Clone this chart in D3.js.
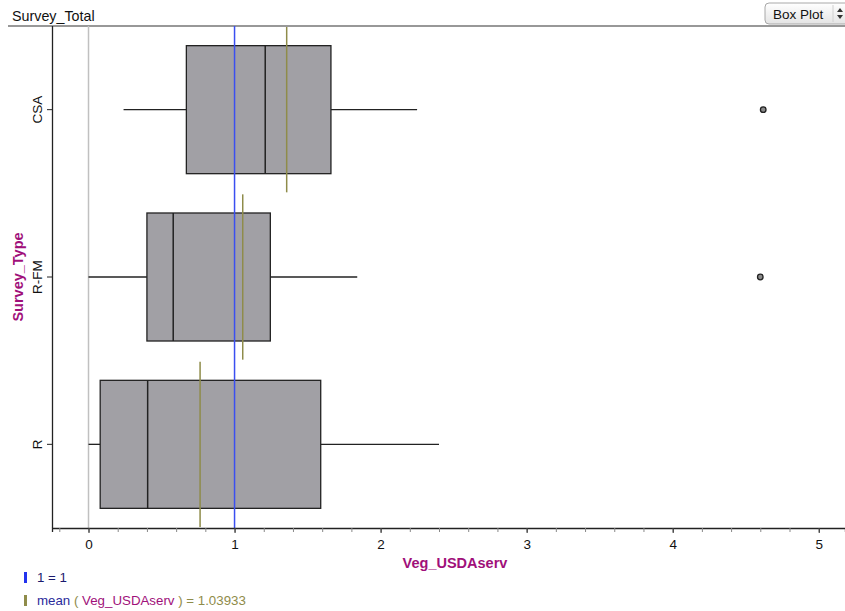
<!DOCTYPE html>
<html>
<head>
<meta charset="utf-8">
<script src="https://cdn.jsdelivr.net/npm/d3@7"></script>
<style>
  html, body { margin: 0; padding: 0; background: #fff; }
  svg { display: block; font-family: "Liberation Sans", Arial, sans-serif; }
</style>
</head>
<body>
<svg id="chart" width="845" height="611"></svg>
<script>
// Survey types, top to bottom
const categories = ["CSA", "R-FM", "R"];
// Five-number summaries per survey type
const whiskerLow  = [0.24, 0.00, 0.00];
const q1          = [0.67, 0.40, 0.08];
const median      = [1.21, 0.58, 0.405];
const q3          = [1.66, 1.245, 1.59];
const whiskerHigh = [2.25, 1.84, 2.40];
// Outliers as [category, value]
const outliers = [["CSA", 4.62], ["R-FM", 4.60]];
// Group means of Veg_USDAserv
const groupMeans = [1.357, 1.056, 0.764];
const overallMean = 1.03933;
const referenceValue = 1;
const xTicks = [0, 1, 2, 3, 4, 5];
const xMinorTicks = d3.range(-0.2, 5.21, 0.2).map(v => +v.toFixed(1));

const svg = d3.select("#chart");
const plot = { left: 52, right: 845, top: 26, bottom: 528 };

const x = d3.scaleLinear().domain([-0.25, 5.18]).range([plot.left, plot.right]);
const y = d3.scaleBand().domain(categories).range([plot.top, plot.bottom]);
const boxH = y.bandwidth() * 0.765;

// Header title and divider
svg.append("text").attr("x", 12).attr("y", 21).attr("font-size", 14.3).attr("fill", "#111")
  .text("Survey_Total");
svg.append("line").attr("x1", 8).attr("x2", 845).attr("y1", plot.top).attr("y2", plot.top)
  .attr("stroke", "#333").attr("stroke-width", 1.2);

// "Box Plot" selector
const btn = svg.append("g").attr("transform", "translate(765,3)");
const grad = svg.append("defs").append("linearGradient").attr("id", "btnGrad")
  .attr("x1", 0).attr("y1", 0).attr("x2", 0).attr("y2", 1);
grad.append("stop").attr("offset", "0%").attr("stop-color", "#ffffff");
grad.append("stop").attr("offset", "100%").attr("stop-color", "#e4e4e4");
btn.append("rect").attr("width", 84).attr("height", 21).attr("rx", 4)
  .attr("fill", "url(#btnGrad)").attr("stroke", "#a8a8a8");
btn.append("line").attr("x1", 68).attr("x2", 68).attr("y1", 2).attr("y2", 19).attr("stroke", "#d0d0d0");
btn.append("text").attr("x", 8).attr("y", 15.5).attr("font-size", 13.5).attr("fill", "#111")
  .text("Box Plot");
btn.append("path").attr("d", "M72,9 L75,5 L78,9 Z M72,12 L75,16 L78,12 Z").attr("fill", "#333");

// Zero line
svg.append("line").attr("x1", x(0)).attr("x2", x(0)).attr("y1", plot.top).attr("y2", plot.bottom)
  .attr("stroke", "#c0c0c0").attr("stroke-width", 1.5);

// Boxes
const groups = svg.append("g").selectAll("g").data(categories).join("g");
groups.each(function(c, i) {
  const g = d3.select(this);
  const cy = y(c) + y.bandwidth() / 2;
  g.append("line").attr("x1", x(whiskerLow[i])).attr("x2", x(q1[i]))
    .attr("y1", cy).attr("y2", cy).attr("stroke", "#222").attr("stroke-width", 1.3);
  g.append("line").attr("x1", x(q3[i])).attr("x2", x(whiskerHigh[i]))
    .attr("y1", cy).attr("y2", cy).attr("stroke", "#222").attr("stroke-width", 1.3);
  g.append("rect").attr("x", x(q1[i])).attr("y", cy - boxH / 2)
    .attr("width", x(q3[i]) - x(q1[i])).attr("height", boxH)
    .attr("fill", "#a1a0a5").attr("stroke", "#222").attr("stroke-width", 1.3);
  g.append("line").attr("x1", x(median[i])).attr("x2", x(median[i]))
    .attr("y1", cy - boxH / 2).attr("y2", cy + boxH / 2)
    .attr("stroke", "#222").attr("stroke-width", 1.5);
});

// Outliers
svg.append("g").selectAll("circle").data(outliers).join("circle")
  .attr("cx", d => x(d[1])).attr("cy", d => y(d[0]) + y.bandwidth() / 2)
  .attr("r", 2.8).attr("fill", "#8a8a8a").attr("stroke", "#222").attr("stroke-width", 1.3);

// Reference line at 1
svg.append("line").attr("x1", x(referenceValue)).attr("x2", x(referenceValue))
  .attr("y1", plot.top).attr("y2", plot.bottom).attr("stroke", "#3a4ff0").attr("stroke-width", 1.5);

// Group mean lines
svg.append("g").selectAll("line").data(categories).join("line")
  .attr("x1", (c, i) => x(groupMeans[i])).attr("x2", (c, i) => x(groupMeans[i]))
  .attr("y1", c => y(c) + 1).attr("y2", c => y(c) + y.bandwidth() - 1)
  .attr("stroke", "#8f8c4a").attr("stroke-width", 1.5);

// Axes
const xAxisMinor = d3.axisBottom(x).tickValues(xMinorTicks).tickSize(4).tickFormat("");
svg.append("g").attr("transform", `translate(0,${plot.bottom})`).call(xAxisMinor)
  .call(g => g.select(".domain").attr("stroke", "#222").attr("stroke-width", 1.3))
  .call(g => g.selectAll(".tick line").attr("stroke", "#888"));
const xAxis = d3.axisBottom(x).tickValues(xTicks).tickSize(5).tickFormat(d3.format("d"));
svg.append("g").attr("transform", `translate(0,${plot.bottom})`).call(xAxis)
  .call(g => g.select(".domain").remove())
  .call(g => g.selectAll(".tick line").attr("stroke", "#222"))
  .call(g => g.selectAll(".tick text").attr("font-size", 13.5).attr("fill", "#111")
    .attr("font-family", "Liberation Sans, Arial, sans-serif").attr("dy", "0.95em"));

const yAxis = d3.axisLeft(y).tickSize(5);
svg.append("g").attr("transform", `translate(${plot.left},0)`).call(yAxis)
  .call(g => g.select(".domain").attr("stroke", "#222").attr("stroke-width", 1.3)
    .attr("d", `M0.5,${plot.top}V${plot.bottom}`))
  .call(g => g.selectAll(".tick line").attr("stroke", "#222"))
  .call(g => g.selectAll(".tick text").attr("font-size", 13.5).attr("fill", "#111")
    .attr("font-family", "Liberation Sans, Arial, sans-serif")
    .attr("x", null).attr("dy", null).attr("text-anchor", "middle")
    .attr("transform", "translate(-10,0) rotate(-90)"));

// Axis titles
svg.append("text").attr("x", 455).attr("y", 568).attr("text-anchor", "middle")
  .attr("font-size", 14.5).attr("font-weight", "bold").attr("fill", "#a0107a")
  .text("Veg_USDAserv");
svg.append("text").attr("transform", `translate(23,${(plot.top + plot.bottom) / 2}) rotate(-90)`)
  .attr("text-anchor", "middle").attr("font-size", 14.5).attr("font-weight", "bold").attr("fill", "#a0107a")
  .text("Survey_Type");

// Legend
const legend = svg.append("g").attr("font-size", 13.3);
legend.append("rect").attr("x", 24).attr("y", 572).attr("width", 3).attr("height", 11).attr("fill", "#2233ee");
legend.append("text").attr("x", 37).attr("y", 582).attr("fill", "#1a1a6e")
  .text(`${referenceValue} = ${referenceValue}`);
legend.append("rect").attr("x", 24).attr("y", 595).attr("width", 3).attr("height", 11).attr("fill", "#8f8c4a");
const meanText = legend.append("text").attr("x", 37).attr("y", 605);
meanText.append("tspan").attr("fill", "#2a2a9a").text("mean ");
meanText.append("tspan").attr("fill", "#8f8c4a").text("( ");
meanText.append("tspan").attr("fill", "#a0107a").text("Veg_USDAserv");
meanText.append("tspan").attr("fill", "#8f8c4a").text(` ) = ${overallMean}`);
</script>
</body>
</html>
